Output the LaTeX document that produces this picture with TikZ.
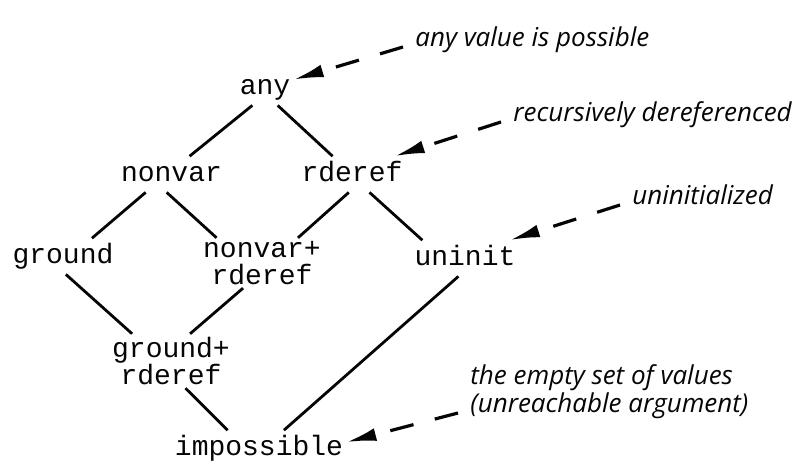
\documentclass[tikz,border=0pt]{standalone}
\usepackage{fontspec}
\setmonofont{Liberation Mono}
\newfontfamily\notefont{Open Sans}
\usetikzlibrary{arrows.meta}
\definecolor{LatticeInk}{gray}{0.02}
\tikzset{
  lattice/.style={x=0.5pt,y=-0.5pt,text=LatticeInk},
  elem/.style={font=\ttfamily\fontsize{14}{13.5}\selectfont,inner xsep=1.5pt,inner ysep=1.5pt,text height=11.2pt,text depth=3.5pt},
  elempair/.style={font=\ttfamily\fontsize{14}{13.5}\selectfont,align=center,inner sep=1.5pt},
  note/.style={font=\notefont\itshape\fontsize{13}{12.5}\selectfont,align=left,inner xsep=6pt,inner ysep=1pt},
  order/.style={line width=1.4pt,draw=LatticeInk},
  pointer/.style={-{Latex[length=15pt,width=6.5pt]},line width=1.6pt,draw=LatticeInk,dash pattern=on 12pt off 11pt},
}
\begin{document}
\begin{tikzpicture}[lattice]
  \useasboundingbox (0,0) rectangle (799,464);
  \node[elem] (any) at (265,87.3) {any};
  \node[elem] (nonvar) at (171.5,174.3) {nonvar};
  \node[elem] (rderef) at (352,174.3) {rderef};
  \node[elem] (ground) at (63,256.3) {ground};
  \node[elempair] (nvrd) at (262,263) {nonvar+\\rderef};
  \node[elem] (uninit) at (465,258.3) {uninit};
  \node[elempair] (grrd) at (171,361) {ground+\\rderef};
  \node[elem] (impossible) at (259,448.3) {impossible};

  \draw[order] (any.235) -- (nonvar.45);
  \draw[order] (any.305) -- (rderef.137);
  \draw[order] (nonvar.215) -- (ground.32);
  \draw[order] (nonvar.255) -- (nvrd.151);
  \draw[order] (rderef.260) -- (nvrd.35);
  \draw[order] (rderef.314) -- (uninit.157);
  \draw[order] (ground.279) -- (grrd.145);
  \draw[order] (nvrd.233) -- (grrd.55);
  \draw[order] (uninit.250) -- (impossible.36);
  \draw[order] (grrd.298) -- (impossible.150);

  \node[note,anchor=base west] (anyNote) at (403,47) {any value is possible};
  \node[note,anchor=base west] (rderefNote) at (501,122) {recursively dereferenced};
  \node[note,anchor=base west] (uninitNote) at (620,205) {uninitialized};
  \node[note,anchor=base west] (emptyNote) at (458,413) {the empty set of values\\(unreachable argument)};

  \draw[pointer] (anyNote.base west) -- (any.15);
  \draw[pointer] (rderefNote.base west) -- (rderef.23);
  \draw[pointer] (uninitNote.base west) -- (uninit.22);
  \draw[pointer] (emptyNote.base west) -- (impossible.4);
\end{tikzpicture}
\end{document}
